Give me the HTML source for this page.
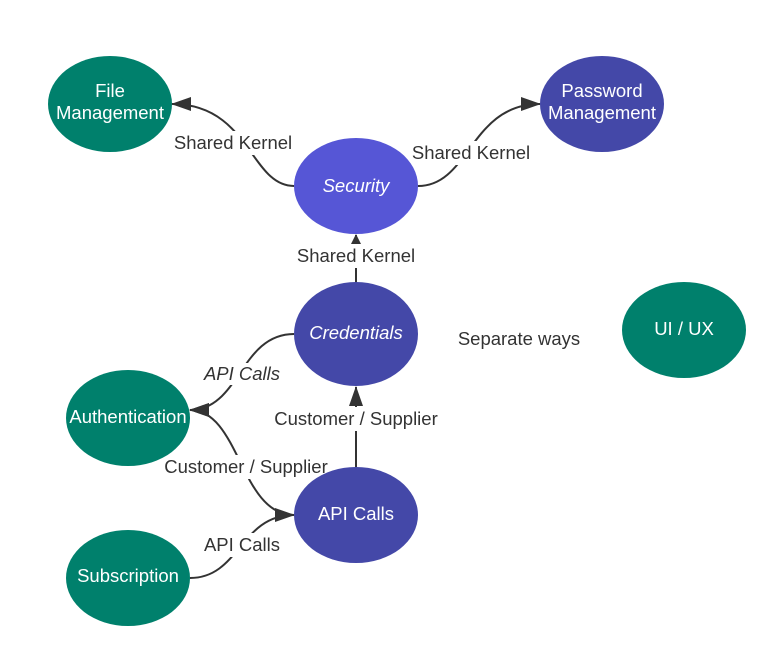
<!DOCTYPE html>
<html><head><meta charset="utf-8"><style>
html,body{margin:0;padding:0;background:#fff;}
svg{display:block;font-family:"Liberation Sans",sans-serif;}
.lbl{font-size:18.5px;fill:#333;text-anchor:middle;}
.nt{font-size:18.5px;fill:#fff;text-anchor:middle;}
</style></head><body>
<svg width="783" height="654" viewBox="0 0 783 654">
<defs><marker id="a" markerWidth="10" markerHeight="10" refX="9" refY="5" orient="auto" markerUnits="userSpaceOnUse"><path d="M0,0 L10,5 L0,10 z" fill="#333"/></marker>
<marker id="b" markerWidth="20" markerHeight="14" refX="19" refY="7" orient="auto" markerUnits="userSpaceOnUse"><path d="M0,0 L20,7 L0,14 z" fill="#333"/></marker></defs>
<g fill="none" stroke="#333" stroke-width="2">
<path d="M294,186 C250,186 250,104 172,104" marker-end="url(#b)"/>
<path d="M418,186 C470,186 470,104 540,104" marker-end="url(#b)"/>
<path d="M356,283 L356,235" marker-end="url(#a)"/>
<path d="M294,334 C240,334 240,410 190,410" marker-end="url(#b)"/>
<path d="M294,515 C240,515 240,410 190,410" marker-end="url(#b)"/>
<path d="M356,467 L356,387" marker-end="url(#b)"/>
<path d="M190,578 C240,578 240,515 294,515" marker-end="url(#b)"/>
</g>
<g fill="#fff">
<rect x="173" y="131" width="120" height="24"/>
<rect x="411" y="141" width="120" height="24"/>
<rect x="296" y="244" width="120" height="24"/>
<rect x="204" y="363" width="76" height="22"/>
<rect x="164" y="455" width="165" height="24"/>
<rect x="274" y="407" width="165" height="24"/>
<rect x="204" y="533" width="76" height="24"/>
</g>
<ellipse cx="110" cy="104" rx="62" ry="48" fill="#00806c"/>
<ellipse cx="602" cy="104" rx="62" ry="48" fill="#4448a8"/>
<ellipse cx="356" cy="186" rx="62" ry="48" fill="#5656d6"/>
<ellipse cx="356" cy="334" rx="62" ry="52" fill="#4448a8"/>
<ellipse cx="684" cy="330" rx="62" ry="48" fill="#00806c"/>
<ellipse cx="128" cy="418" rx="62" ry="48" fill="#00806c"/>
<ellipse cx="356" cy="515" rx="62" ry="48" fill="#4448a8"/>
<ellipse cx="128" cy="578" rx="62" ry="48" fill="#00806c"/>
<text class="nt" x="110" y="97">File</text><text class="nt" x="110" y="119">Management</text>
<text class="nt" x="602" y="97">Password</text><text class="nt" x="602" y="119">Management</text>
<text class="nt" x="356" y="192" font-style="italic">Security</text>
<text class="nt" x="356" y="339" font-style="italic">Credentials</text>
<text class="nt" x="684" y="335">UI / UX</text>
<text class="nt" x="128" y="423">Authentication</text>
<text class="nt" x="356" y="520">API Calls</text>
<text class="nt" x="128" y="582">Subscription</text>
<text class="lbl" x="233" y="149">Shared Kernel</text>
<text class="lbl" x="471" y="159">Shared Kernel</text>
<text class="lbl" x="356" y="262">Shared Kernel</text>
<text class="lbl" x="242" y="380" font-style="italic" font-size="16">API  Calls</text>
<text class="lbl" x="246" y="473">Customer / Supplier</text>
<text class="lbl" x="356" y="425">Customer / Supplier</text>
<text class="lbl" x="242" y="551">API Calls</text>
<text class="lbl" x="519" y="345">Separate ways</text>
</svg>
</body></html>
